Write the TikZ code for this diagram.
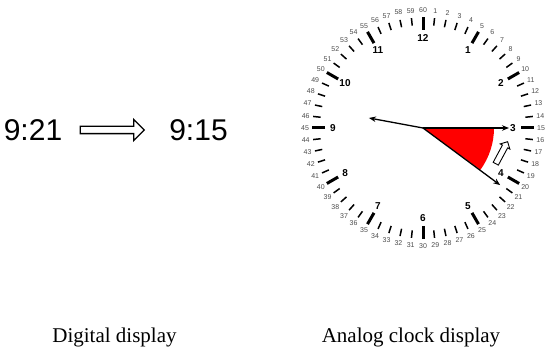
\documentclass[tikz,border=0pt]{standalone}
\usepackage{fontspec}
\setmainfont{Liberation Sans}
\newfontfamily\capfont{Liberation Serif}
\usetikzlibrary{arrows.meta,shapes.arrows}
\begin{document}
\begin{tikzpicture}[x=1pt,y=1pt,
  digit/.style={inner sep=0pt,font=\fontsize{30}{30}\selectfont},
  caption/.style={inner sep=0pt,font=\capfont\fontsize{21}{21}\selectfont,anchor=base},
  hollowarrow/.style={single arrow,draw=black,fill=white,inner xsep=0pt},
  majortick/.style={line width=3pt},
  minortick/.style={line width=1.5pt},
  minnum/.style={font=\fontsize{7}{7}\selectfont,text=black!70,inner sep=0pt},
  hournum/.style={font=\bfseries\fontsize{10}{10}\selectfont,inner sep=0pt},
  hand/.style={line width=1.3pt,-{Stealth[length=7pt,width=5.5pt]}},
]
\useasboundingbox (0,0) rectangle (550,359);
% digital display
\node[digit] (d1) at (33,229) {9:21};
\node[digit] (d2) at (198.5,229) {9:15};
\node[hollowarrow,line width=1.3pt,inner ysep=3pt,minimum height=64pt,single arrow head extend=7pt] (da) at (110.5,229) {};
% captions
\node[caption] (cap1) at (114.5,16) {Digital display};
\node[caption] (cap2) at (411,16) {Analog clock display};
% clock
\coordinate (c) at (423,231);
\fill[red] (c) -- ([shift={(-36:71)}]c) arc[start angle=-36,end angle=0,radius=71] -- cycle;
\foreach \k in {0,...,59} {
  \pgfmathsetmacro\a{90-6*\k}
  \pgfmathtruncatemacro\m{mod(\k,5)}
  \pgfmathtruncatemacro\lab{\k==0?60:\k}
  \ifnum\m=0
    \draw[majortick] ([shift={(\a:98)}]c) -- ([shift={(\a:111)}]c);
  \else
    \draw[minortick] ([shift={(\a:103)}]c) -- ([shift={(\a:110.5)}]c);
  \fi
  \node[minnum] (m\k) at ([shift={(\a:118)}]c) {\lab};
}
\foreach \h in {1,...,12} {
  \pgfmathsetmacro\b{90-30*\h}
  \node[hournum] (h\h) at ([shift={(\b:90)}]c) {\h};
}
% hands
\coordinate (hh) at ([shift={(169.5:55)}]c);
\coordinate (hm) at ([shift={(0:86)}]c);
\coordinate (hs) at ([shift={(-36.5:96)}]c);
\draw[hand] (c) -- (hh);
\draw[hand] (c) -- (hm);
\draw[hand] (c) -- (hs);
% rotation arrow
\node[hollowarrow,line width=0.9pt,inner ysep=2.5pt,minimum height=25pt,single arrow head extend=2.5pt,rotate=61.7] (ra) at (501,205) {};
\end{tikzpicture}
\end{document}
